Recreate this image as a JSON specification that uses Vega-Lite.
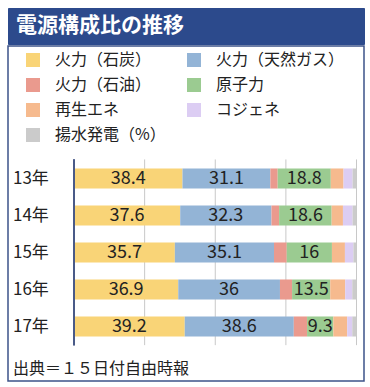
{
  "$schema": "https://vega.github.io/schema/vega-lite/v6.json",
  "padding": {"left": 7, "top": 7, "right": 7, "bottom": 9},
  "background": "white",
  "spacing": 0,
  "resolve": {"scale": {"x": "independent", "y": "independent"}},
  "config": {"font": "Noto Sans CJK JP", "concat": {"spacing": 0}},
  "datasets": {
    "main": [
      {"year": "13年", "src": "火力（石炭）", "v": 38.4, "k": 0},
      {"year": "13年", "src": "火力（天然ガス）", "v": 31.1, "k": 1},
      {"year": "13年", "src": "火力（石油）", "v": 2.6, "k": 2},
      {"year": "13年", "src": "原子力", "v": 18.8, "k": 3},
      {"year": "13年", "src": "再生エネ", "v": 4.5, "k": 4},
      {"year": "13年", "src": "コジェネ", "v": 3.2, "k": 5},
      {"year": "13年", "src": "揚水発電（%）", "v": 1.4, "k": 6},
      {"year": "14年", "src": "火力（石炭）", "v": 37.6, "k": 0},
      {"year": "14年", "src": "火力（天然ガス）", "v": 32.3, "k": 1},
      {"year": "14年", "src": "火力（石油）", "v": 2.7, "k": 2},
      {"year": "14年", "src": "原子力", "v": 18.6, "k": 3},
      {"year": "14年", "src": "再生エネ", "v": 4.0, "k": 4},
      {"year": "14年", "src": "コジェネ", "v": 3.4, "k": 5},
      {"year": "14年", "src": "揚水発電（%）", "v": 1.4, "k": 6},
      {"year": "15年", "src": "火力（石炭）", "v": 35.7, "k": 0},
      {"year": "15年", "src": "火力（天然ガス）", "v": 35.1, "k": 1},
      {"year": "15年", "src": "火力（石油）", "v": 4.5, "k": 2},
      {"year": "15年", "src": "原子力", "v": 16, "k": 3},
      {"year": "15年", "src": "再生エネ", "v": 4.6, "k": 4},
      {"year": "15年", "src": "コジェネ", "v": 3.0, "k": 5},
      {"year": "15年", "src": "揚水発電（%）", "v": 1.1, "k": 6},
      {"year": "16年", "src": "火力（石炭）", "v": 36.9, "k": 0},
      {"year": "16年", "src": "火力（天然ガス）", "v": 36, "k": 1},
      {"year": "16年", "src": "火力（石油）", "v": 4.3, "k": 2},
      {"year": "16年", "src": "原子力", "v": 13.5, "k": 3},
      {"year": "16年", "src": "再生エネ", "v": 5.3, "k": 4},
      {"year": "16年", "src": "コジェネ", "v": 2.5, "k": 5},
      {"year": "16年", "src": "揚水発電（%）", "v": 1.5, "k": 6},
      {"year": "17年", "src": "火力（石炭）", "v": 39.2, "k": 0},
      {"year": "17年", "src": "火力（天然ガス）", "v": 38.6, "k": 1},
      {"year": "17年", "src": "火力（石油）", "v": 4.7, "k": 2},
      {"year": "17年", "src": "原子力", "v": 9.3, "k": 3},
      {"year": "17年", "src": "再生エネ", "v": 4.9, "k": 4},
      {"year": "17年", "src": "コジェネ", "v": 1.8, "k": 5},
      {"year": "17年", "src": "揚水発電（%）", "v": 1.5, "k": 6}
    ],
    "grid": [{"g": 25}, {"g": 50}, {"g": 75}, {"g": 100}],
    "head": [{"t": "電源構成比の推移"}]
  },
  "vconcat": [
    {
      "width": 356,
      "height": 36,
      "view": {"fill": "#2C4A8C", "stroke": "#2C4A8C", "strokeWidth": 1},
      "data": {"name": "head"},
      "mark": {"type": "text", "align": "left", "baseline": "middle", "fontSize": 21, "fontWeight": "bold", "color": "white", "dx": 8, "font": "Noto Sans CJK JP"},
      "encoding": {
        "text": {"field": "t"},
        "x": {"datum": 0, "type": "quantitative", "scale": {"domain": [0, 1]}, "axis": null}
      }
    },
    {
      "width": 356,
      "height": 335,
      "view": {"fill": "white", "stroke": "#3D5389", "strokeWidth": 1.5},
      "title": {"text": "出典＝１５日付自由時報", "orient": "bottom", "anchor": "start", "frame": "group", "offset": -20, "dx": 5, "fontSize": 16, "fontWeight": "normal", "color": "#222222", "font": "Noto Sans CJK JP", "baseline": "top"},
      "encoding": {
        "x": {"type": "quantitative", "scale": {"domain": [-23.36, 102.65], "nice": false, "zero": false}, "axis": null},
        "y": {"type": "nominal", "scale": {"domain": ["13年", "14年", "15年", "16年", "17年"], "range": [114, 299], "paddingInner": 0.458, "paddingOuter": 0.229, "round": false}, "axis": null}
      },
      "layer": [
        {
          "data": {"name": "grid"},
          "mark": {"type": "rule", "color": "#C8C8C8", "strokeWidth": 1},
          "encoding": {
            "x": {"field": "g", "type": "quantitative"},
            "y": {"datum": "13年", "bandPosition": -0.45},
            "y2": {"datum": "17年", "bandPosition": 1.43}
          }
        },
        {
          "data": {"name": "main"},
          "mark": {"type": "bar"},
          "encoding": {
            "y": {"field": "year", "type": "nominal"},
            "x": {"field": "v", "type": "quantitative", "stack": "zero"},
            "order": {"field": "k", "type": "quantitative"},
            "color": {
              "field": "src",
              "type": "nominal",
              "scale": {
                "domain": ["火力（石炭）", "火力（天然ガス）", "火力（石油）", "原子力", "再生エネ", "コジェネ", "揚水発電（%）"],
                "range": ["#F9D477", "#93B4D6", "#EA9A8E", "#9BCB91", "#F6BA8E", "#DCCDF3", "#CBCBCB"]
              },
              "legend": {
                "orient": "none", "legendX": 17, "legendY": 44, "columns": 2, "direction": "horizontal", "title": null,
                "symbolType": "square", "symbolSize": 196, "symbolStrokeWidth": 0, "symbolOpacity": 1,
                "labelFontSize": 16, "labelFont": "Noto Sans CJK JP", "labelColor": "#222222",
                "labelOffset": 14, "rowPadding": 9, "columnPadding": 20, "padding": 0, "labelLimit": 200
              }
            }
          }
        },
        {
          "data": {"name": "grid"},
          "mark": {"type": "rule", "color": "#4A5A88", "strokeWidth": 1.5},
          "encoding": {
            "x": {"datum": 0, "type": "quantitative"},
            "y": {"datum": "13年", "bandPosition": -0.45},
            "y2": {"datum": "17年", "bandPosition": 1.43}
          }
        },
        {
          "data": {"name": "main"},
          "transform": [
            {"stack": "v", "groupby": ["year"], "sort": [{"field": "k", "order": "ascending"}], "as": ["v0", "v1"]},
            {"filter": "datum.k == 0 || datum.k == 1 || datum.k == 3"},
            {"calculate": "(datum.v0 + datum.v1) / 2", "as": "mid"}
          ],
          "mark": {"type": "text", "fontSize": 18, "color": "#222222", "align": "center", "baseline": "middle", "font": "Noto Sans CJK JP"},
          "encoding": {
            "y": {"field": "year", "type": "nominal"},
            "x": {"field": "mid", "type": "quantitative"},
            "text": {"field": "v", "type": "nominal"}
          }
        },
        {
          "data": {"name": "main"},
          "transform": [{"filter": "datum.k == 0"}],
          "mark": {"type": "text", "fontSize": 17, "color": "#222222", "align": "left", "baseline": "middle", "font": "Noto Sans CJK JP"},
          "encoding": {
            "y": {"field": "year", "type": "nominal"},
            "x": {"datum": -21.6, "type": "quantitative"},
            "text": {"field": "year", "type": "nominal"}
          }
        }
      ]
    }
  ]
}
